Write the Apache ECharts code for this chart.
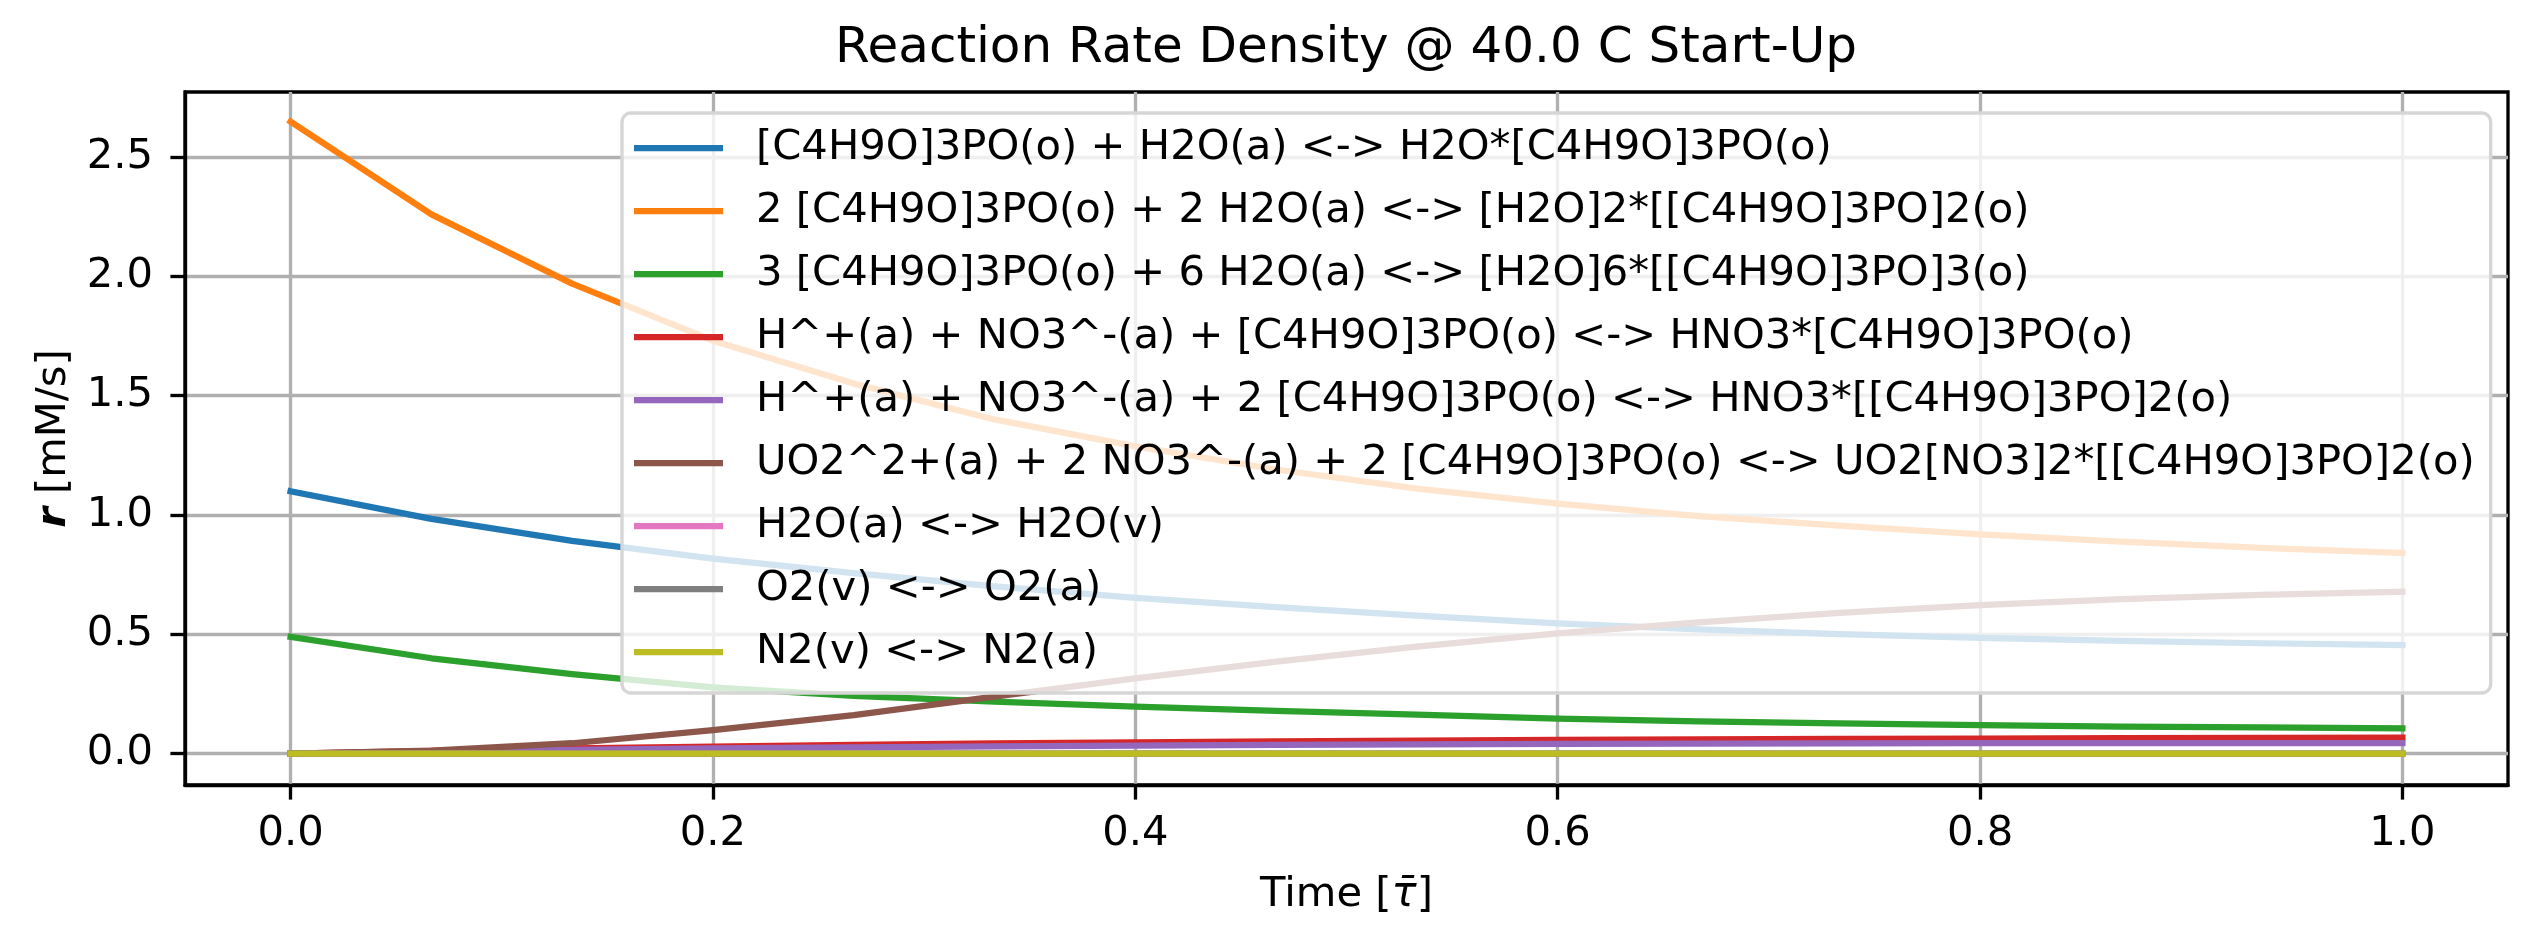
<!DOCTYPE html>
<html>
<head>
<meta charset="utf-8">
<title>Reaction Rate Density</title>
<script src="https://cdn.jsdelivr.net/npm/echarts@6/dist/echarts.min.js"></script>
<style>
  html, body { margin: 0; padding: 0; background: #fff; }
  #main { width: 2539px; height: 945px; }
</style>
</head>
<body>
<div id="main"></div>
<script>
var TIME = [0, 0.0667, 0.1333, 0.2, 0.2667, 0.3333, 0.4, 0.4667, 0.5333, 0.6, 0.6667, 0.7333, 0.8, 0.8667, 0.9333, 1.0];

var LABELS = [
  "[C4H9O]3PO(o) + H2O(a) <-> H2O*[C4H9O]3PO(o)",
  "2 [C4H9O]3PO(o) + 2 H2O(a) <-> [H2O]2*[[C4H9O]3PO]2(o)",
  "3 [C4H9O]3PO(o) + 6 H2O(a) <-> [H2O]6*[[C4H9O]3PO]3(o)",
  "H^+(a) + NO3^-(a) + [C4H9O]3PO(o) <-> HNO3*[C4H9O]3PO(o)",
  "H^+(a) + NO3^-(a) + 2 [C4H9O]3PO(o) <-> HNO3*[[C4H9O]3PO]2(o)",
  "UO2^2+(a) + 2 NO3^-(a) + 2 [C4H9O]3PO(o) <-> UO2[NO3]2*[[C4H9O]3PO]2(o)",
  "H2O(a) <-> H2O(v)",
  "O2(v) <-> O2(a)",
  "N2(v) <-> N2(a)"
];

var COLORS = ["#1f77b4", "#ff7f0e", "#2ca02c", "#d62728", "#9467bd", "#8c564b", "#e377c2", "#7f7f7f", "#bcbd22"];

// reaction rate densities [mM/s]
var R_TBP_H2O   = [1.099, 0.983, 0.891, 0.817, 0.756, 0.700, 0.652, 0.613, 0.578, 0.545, 0.520, 0.500, 0.485, 0.472, 0.462, 0.454];
var R_TBP2_H2O2 = [2.648, 2.259, 1.969, 1.730, 1.550, 1.400, 1.287, 1.190, 1.110, 1.047, 0.995, 0.955, 0.918, 0.888, 0.862, 0.840];
var R_TBP3_H2O6 = [0.489, 0.399, 0.333, 0.277, 0.241, 0.217, 0.196, 0.179, 0.163, 0.146, 0.135, 0.126, 0.119, 0.113, 0.109, 0.105];
var R_HNO3_TBP  = [0.000, 0.011, 0.021, 0.029, 0.036, 0.042, 0.047, 0.051, 0.054, 0.057, 0.059, 0.061, 0.062, 0.064, 0.065, 0.066];
var R_HNO3_TBP2 = [0.000, 0.008, 0.015, 0.021, 0.026, 0.030, 0.033, 0.036, 0.038, 0.040, 0.041, 0.042, 0.043, 0.043, 0.044, 0.044];
var R_UO2_TBP2  = [0.000, 0.012, 0.043, 0.098, 0.161, 0.238, 0.315, 0.385, 0.448, 0.503, 0.549, 0.589, 0.622, 0.647, 0.665, 0.678];
var R_H2O_VAP   = [0, 0, 0, 0, 0, 0, 0, 0, 0, 0, 0, 0, 0, 0, 0, 0];
var R_O2_ABS    = [0, 0, 0, 0, 0, 0, 0, 0, 0, 0, 0, 0, 0, 0, 0, 0];
var R_N2_ABS    = [0, 0, 0, 0, 0, 0, 0, 0, 0, 0, 0, 0, 0, 0, 0, 0];

var RATES = [R_TBP_H2O, R_TBP2_H2O2, R_TBP3_H2O6, R_HNO3_TBP, R_HNO3_TBP2, R_UO2_TBP2, R_H2O_VAP, R_O2_ABS, R_N2_ABS];

var FONT = "DejaVu Sans";
var FS = 41.7;
var LW = 3.33;

var chart = echarts.init(document.getElementById("main"));

var series = RATES.map(function (vals, i) {
  return {
    name: LABELS[i],
    type: "line",
    data: vals.map(function (v, j) {
      return [TIME[j], v];
    }),
    showSymbol: false,
    symbol: "none",
    color: COLORS[i],
    lineStyle: { width: 6.25, color: COLORS[i], cap: "square", join: "round" }
  };
});

var option = {
  animation: false,
  textStyle: { fontFamily: FONT },
  title: {
    text: "Reaction Rate Density @ 40.0 C Start-Up",
    left: 1346,
    top: 24,
    textAlign: "center",
    padding: 0,
    textStyle: { fontFamily: FONT, fontSize: 50, fontWeight: "normal", color: "#000" }
  },
  grid: {
    left: 185,
    top: 92,
    width: 2323,
    height: 693,
    show: true,
    borderColor: "#000",
    borderWidth: LW,
    backgroundColor: "transparent"
  },
  legend: {
    orient: "vertical",
    left: 622,
    top: 113,
    icon: "rect",
    itemWidth: 89,
    itemHeight: 6.25,
    itemGap: 19,
    padding: [13, 16, 19, 12],
    backgroundColor: "rgba(255,255,255,0.8)",
    borderColor: "#d6d6d6",
    borderWidth: LW,
    borderRadius: 9,
    textStyle: { fontFamily: FONT, fontSize: FS, color: "#000", lineHeight: 44, padding: [0, 0, 0, 28] },
    data: LABELS
  },
  xAxis: {
    type: "value",
    min: -0.05,
    max: 1.05,
    splitNumber: 5,
    name: "Time [{i|τ̄}]",
    nameLocation: "middle",
    nameGap: 89,
    nameTextStyle: {
      fontFamily: FONT, fontSize: FS, color: "#000",
      rich: { i: { fontFamily: FONT, fontSize: FS, fontStyle: "italic", color: "#000" } }
    },
    axisLine: { show: true, onZero: false, lineStyle: { color: "#000", width: LW } },
    axisTick: { show: true, length: 14.6, lineStyle: { color: "#000", width: LW } },
    axisLabel: {
      margin: 28,
      fontFamily: FONT, fontSize: FS, color: "#000",
      showMinLabel: false, showMaxLabel: false,
      formatter: function (v) { return v.toFixed(1); }
    },
    splitLine: { show: true, showMinLine: false, showMaxLine: false, lineStyle: { color: "#b0b0b0", width: LW } }
  },
  yAxis: {
    type: "value",
    min: -0.132,
    max: 2.772,
    splitNumber: 5,
    name: "{b|r} [mM/s]",
    nameLocation: "middle",
    nameGap: 110,
    nameTextStyle: {
      fontFamily: FONT, fontSize: FS, color: "#000",
      rich: { b: { fontFamily: FONT, fontSize: FS, fontWeight: "bold", fontStyle: "italic", color: "#000" } }
    },
    axisLine: { show: true, onZero: false, lineStyle: { color: "#000", width: LW } },
    axisTick: { show: true, length: 14.6, lineStyle: { color: "#000", width: LW } },
    axisLabel: {
      margin: 32,
      fontFamily: FONT, fontSize: FS, color: "#000",
      showMinLabel: false, showMaxLabel: false,
      formatter: function (v) { return v.toFixed(1); }
    },
    splitLine: { show: true, showMinLine: false, showMaxLine: false, lineStyle: { color: "#b0b0b0", width: LW } }
  },
  series: series
};

chart.setOption(option);
</script>
</body>
</html>
